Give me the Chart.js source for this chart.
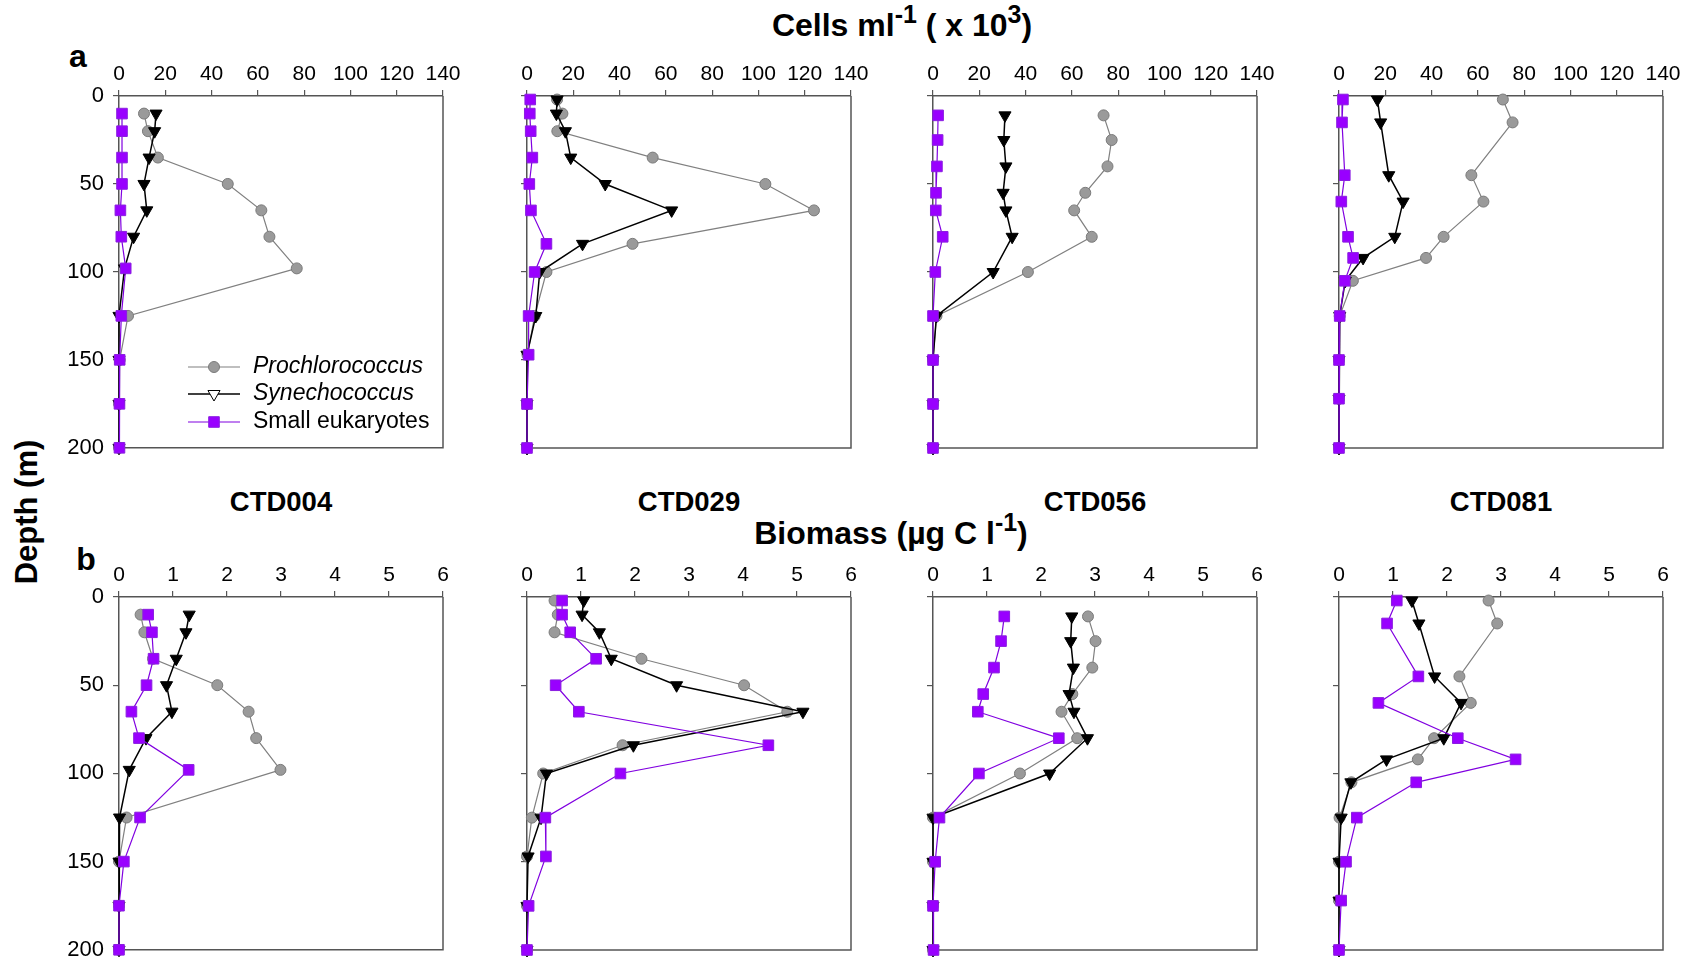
<!DOCTYPE html>
<html>
<head>
<meta charset="utf-8">
<script src="https://cdn.jsdelivr.net/npm/chart.js@4.4.0/dist/chart.umd.min.js"></script>
<style>
  body { margin: 0; background: #fff; font-family: "Liberation Sans", Arial, sans-serif; }
  #fig { position: relative; width: 1692px; height: 959px; overflow: hidden; background: #fff; }
  .lbl { position: absolute; transform: translate(-50%, -50%); font-weight: bold; white-space: nowrap; color: #000; }
  .lbl sup { font-size: 78%; vertical-align: 0.5em; line-height: 0; }
  canvas { position: absolute; }
</style>
</head>
<body>
<div id="fig">
  <div class="lbl" style="left:902px;top:25px;font-size:32px;">Cells ml<sup>-1</sup> ( x 10<sup>3</sup>)</div>
  <div class="lbl" style="left:891px;top:533px;font-size:32px;">Biomass (µg C l<sup>-1</sup>)</div>
  <div class="lbl" style="left:78px;top:56px;font-size:32px;">a</div>
  <div class="lbl" style="left:86px;top:559px;font-size:32px;">b</div>
  <div class="lbl" style="left:27px;top:512px;font-size:31px;transform:translate(-50%,-50%) rotate(-90deg);">Depth (m)</div>
</div>
<script>
// Station names and sampling depths (m)
const stations = ['CTD004', 'CTD029', 'CTD056', 'CTD081'];
const depth004 = [10, 20, 35, 50, 65, 80, 98, 125, 150, 175, 200];
const depth029 = [2, 10, 20, 35, 50, 65, 84, 100, 125, 147, 175, 200];
const depth056 = [11, 25, 40, 55, 65, 80, 100, 125, 150, 175, 200];
const depth081 = [2, 15, 45, 60, 80, 92, 105, 125, 150, 172, 200];

// Abundance, cells ml-1 (x 10^3)
const cells004Pro = [10.8, 12.5, 16.8, 47, 61.5, 65, 76.8, 3.9, 0.3, 0, 0];
const cells004Syn = [16, 15.4, 13, 10.8, 12, 6.3, 2.4, 0, 0, 0, 0];
const cells004Euk = [1.3, 1.3, 1.3, 1.3, 0.6, 1, 2.9, 1, 0.3, 0.2, 0.2];

const cells029Pro = [13, 15.3, 13.1, 54.3, 103, 124, 45.6, 8.4, 3.3, 0.2, 0, 0];
const cells029Syn = [13, 12.7, 16.6, 18.9, 33.8, 62.5, 24, 5.5, 3.8, 0, 0, 0];
const cells029Euk = [1.4, 1.2, 1.6, 2.3, 1, 1.7, 8.4, 3.3, 0.7, 0.7, 0, 0];

const cells056Pro = [73.7, 77.2, 75.4, 65.8, 61, 68.6, 41, 1.5, 0, 0, 0];
const cells056Syn = [31.1, 30.6, 31.5, 30.3, 31.5, 34.2, 26, 1.5, 0, 0, 0];
const cells056Euk = [2.2, 2, 1.7, 1.3, 1.2, 4.2, 1, 0, 0, 0, 0];

const cells081Pro = [70.8, 75, 57.2, 62.4, 45.2, 37.6, 6, 0.3, 0, 0, 0];
const cells081Syn = [16.6, 18, 21.5, 27.7, 24.1, 10.4, 2.7, 0.3, 0, 0, 0];
const cells081Euk = [1.7, 1.3, 2.5, 1, 3.9, 6.1, 2.5, 0.3, 0, 0, 0];

// Biomass, µg C l-1
const bio004Pro = [0.40, 0.47, 0.63, 1.82, 2.40, 2.54, 2.99, 0.14, 0, 0, 0];
const bio004Syn = [1.30, 1.24, 1.06, 0.88, 0.98, 0.50, 0.19, 0.01, 0, 0, 0];
const bio004Euk = [0.54, 0.61, 0.64, 0.51, 0.23, 0.37, 1.29, 0.39, 0.09, 0, 0];

const bio029Pro = [0.51, 0.57, 0.51, 2.12, 4.02, 4.82, 1.77, 0.30, 0.09, 0, 0, 0];
const bio029Syn = [1.05, 1.02, 1.34, 1.56, 2.77, 5.11, 1.97, 0.36, 0.26, 0.02, 0, 0];
const bio029Euk = [0.65, 0.65, 0.80, 1.28, 0.53, 0.96, 4.47, 1.73, 0.34, 0.35, 0.03, 0];

const bio056Pro = [2.87, 3.01, 2.95, 2.58, 2.38, 2.67, 1.61, 0, 0, 0, 0];
const bio056Syn = [2.57, 2.55, 2.60, 2.52, 2.61, 2.86, 2.16, 0, 0, 0, 0];
const bio056Euk = [1.32, 1.26, 1.13, 0.93, 0.83, 2.33, 0.85, 0.12, 0.04, 0, 0.01];

const bio081Pro = [2.77, 2.93, 2.23, 2.44, 1.76, 1.46, 0.23, 0.01, 0, 0, 0];
const bio081Syn = [1.35, 1.48, 1.77, 2.26, 1.94, 0.88, 0.22, 0.04, 0, 0, 0];
const bio081Euk = [1.07, 0.89, 1.47, 0.73, 2.20, 3.27, 1.43, 0.33, 0.13, 0.04, 0];

const seriesNames = ['Prochlorococcus', 'Synechococcus', 'Small eukaryotes'];

// Layout of the plot boxes
const PLOT_W = 324;
const PAD_L = 70, PAD_T = 40, PAD_R = 26, PAD_B = 16;
const colLeft = [119, 527, 933, 1339];
const rowTop = [96, 597];
const rowH = [352, 353];
const AXIS_COLOR = '#555';

Chart.defaults.font.family = '"Liberation Sans", Arial, sans-serif';
Chart.defaults.color = '#000';

const styles = [
  { borderColor: '#808080', borderWidth: 1.2, pointStyle: 'circle', pointRadius: 5.5, pointRotation: 0,
    pointBackgroundColor: '#9a9a9a', pointBorderColor: '#7a7a7a', pointBorderWidth: 1, order: 2 },
  { borderColor: '#000', borderWidth: 1.5, pointStyle: 'triangle', pointRadius: 7, pointRotation: 180,
    pointBackgroundColor: '#000', pointBorderColor: '#000', pointBorderWidth: 1, order: 1 },
  { borderColor: '#8000e0', borderWidth: 1.2, pointStyle: 'rect', pointRadius: 7.5, pointRotation: 0,
    pointBackgroundColor: '#9900ff', pointBorderColor: '#8a1ee0', pointBorderWidth: 1, order: 0 }
];

function depthSeries(depths, values) {
  return values.map((v, i) => ({ x: v, y: depths[i] }));
}

// right and bottom edges of the box, drawn under the markers
const boxFrame = {
  id: 'boxFrame',
  beforeDatasetsDraw(chart) {
    const { ctx, chartArea: a } = chart;
    ctx.save();
    ctx.strokeStyle = AXIS_COLOR;
    ctx.lineWidth = 1.5;
    ctx.beginPath();
    ctx.moveTo(a.left, a.bottom);
    ctx.lineTo(a.right, a.bottom);
    ctx.lineTo(a.right, a.top);
    ctx.stroke();
    ctx.restore();
  }
};

// key drawn inside the first panel
const speciesLegend = {
  id: 'speciesLegend',
  afterDatasetsDraw(chart) {
    const { ctx, chartArea: a } = chart;
    const x0 = a.left + 69, x1 = a.left + 121, tx = a.left + 134;
    const rows = [a.top + 271, a.top + 298, a.top + 326];
    seriesNames.forEach((name, i) => {
      const st = styles[i];
      const y = rows[i];
      ctx.save();
      ctx.strokeStyle = st.borderColor;
      ctx.lineWidth = st.borderWidth;
      ctx.beginPath();
      ctx.moveTo(x0, y);
      ctx.lineTo(x1, y);
      ctx.stroke();
      ctx.fillStyle = i === 1 ? '#fff' : st.pointBackgroundColor;
      ctx.strokeStyle = st.pointBorderColor;
      ctx.lineWidth = st.pointBorderWidth;
      Chart.helpers.drawPoint(ctx, {
        pointStyle: st.pointStyle, radius: st.pointRadius, rotation: st.pointRotation, borderWidth: st.pointBorderWidth
      }, (x0 + x1) / 2, y);
      ctx.fillStyle = '#000';
      ctx.font = (i < 2 ? 'italic ' : '') + '23px "Liberation Sans", Arial, sans-serif';
      ctx.textBaseline = 'middle';
      ctx.textAlign = 'left';
      ctx.fillText(name, tx, y);
      ctx.restore();
    });
  }
};

function panelConfig(row, col, depths, series, xMax, xStep) {
  const datasets = series.map((vals, i) => Object.assign({
    label: seriesNames[i],
    data: depthSeries(depths, vals),
    showLine: true,
    clip: false
  }, styles[i]));

  const gridOpts = { drawOnChartArea: false, drawTicks: true, tickLength: 6, color: AXIS_COLOR, lineWidth: 1.2 };
  const borderOpts = { display: true, color: AXIS_COLOR, width: 1.5 };

  const plugins = [boxFrame];
  if (row === 0 && col === 0) plugins.push(speciesLegend);

  return {
    type: 'scatter',
    data: { datasets },
    options: {
      responsive: false,
      animation: false,
      events: [],
      layout: { padding: { right: PAD_R, bottom: PAD_B } },
      plugins: { legend: { display: false }, tooltip: { enabled: false } },
      scales: {
        x: {
          type: 'linear', position: 'top', min: 0, max: xMax,
          ticks: { stepSize: xStep, font: { size: 21 }, color: '#000', padding: 3, maxRotation: 0 },
          grid: gridOpts, border: borderOpts,
          afterFit: s => { s.height = PAD_T; }
        },
        y: {
          type: 'linear', reverse: true, min: 0, max: 200,
          ticks: { stepSize: 50, display: col === 0, font: { size: 22 }, color: '#000', padding: 9 },
          grid: gridOpts, border: borderOpts,
          afterFit: s => { s.width = PAD_L; }
        }
      }
    },
    plugins
  };
}

function sizeCanvas(canvas, w, h) {
  canvas.width = w;
  canvas.height = h;
  canvas.style.width = w + 'px';
  canvas.style.height = h + 'px';
}

function makePanel(row, col, depths, series, xMax, xStep) {
  const canvas = document.createElement('canvas');
  document.getElementById('fig').appendChild(canvas);
  let w = PLOT_W + PAD_L + PAD_R;
  let h = rowH[row] + PAD_T + PAD_B;
  sizeCanvas(canvas, w, h);

  // first pass to measure the plot box, then rebuild at the size that gives the wanted box
  let chart = new Chart(canvas, panelConfig(row, col, depths, series, xMax, xStep));
  let a = chart.chartArea;
  w += PLOT_W - (a.right - a.left);
  h += rowH[row] - (a.bottom - a.top);
  chart.destroy();
  sizeCanvas(canvas, w, h);
  chart = new Chart(canvas, panelConfig(row, col, depths, series, xMax, xStep));
  a = chart.chartArea;
  canvas.style.left = (colLeft[col] - a.left) + 'px';
  canvas.style.top = (rowTop[row] - a.top) + 'px';
  return chart;
}

const stationDepths = [depth004, depth029, depth056, depth081];
const cellSeries = [
  [cells004Pro, cells004Syn, cells004Euk],
  [cells029Pro, cells029Syn, cells029Euk],
  [cells056Pro, cells056Syn, cells056Euk],
  [cells081Pro, cells081Syn, cells081Euk]
];
const bioSeries = [
  [bio004Pro, bio004Syn, bio004Euk],
  [bio029Pro, bio029Syn, bio029Euk],
  [bio056Pro, bio056Syn, bio056Euk],
  [bio081Pro, bio081Syn, bio081Euk]
];

stations.forEach((name, c) => {
  makePanel(0, c, stationDepths[c], cellSeries[c], 140, 20);
  makePanel(1, c, stationDepths[c], bioSeries[c], 6, 1);

  const lab = document.createElement('div');
  lab.className = 'lbl';
  lab.style.left = (colLeft[c] + PLOT_W / 2) + 'px';
  lab.style.top = '502px';
  lab.style.fontSize = '27.5px';
  lab.textContent = name;
  document.getElementById('fig').appendChild(lab);
});
</script>
</body>
</html>
